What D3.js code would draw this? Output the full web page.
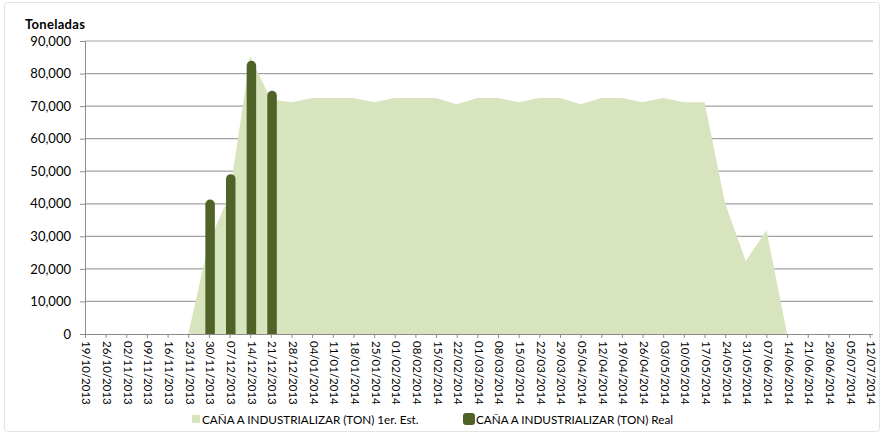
<!DOCTYPE html>
<html>
<head>
<meta charset="utf-8">
<script src="https://cdn.jsdelivr.net/npm/d3@7"></script>
<style>
  body { margin: 0; background: #fff; }
  svg { display: block; font-family: Lato, "Open Sans", sans-serif; }
</style>
</head>
<body>
<svg id="chart" width="884" height="434"></svg>
<script>
// =========================
// DATI
// =========================
const tickDates = [
  "19/10/2013", "26/10/2013", "02/11/2013", "09/11/2013", "16/11/2013", "23/11/2013",
  "30/11/2013", "07/12/2013", "14/12/2013", "21/12/2013", "28/12/2013", "04/01/2014",
  "11/01/2014", "18/01/2014", "25/01/2014", "01/02/2014", "08/02/2014", "15/02/2014",
  "22/02/2014", "01/03/2014", "08/03/2014", "15/03/2014", "22/03/2014", "29/03/2014",
  "05/04/2014", "12/04/2014", "19/04/2014", "26/04/2014", "03/05/2014", "10/05/2014",
  "17/05/2014", "24/05/2014", "31/05/2014", "07/06/2014", "14/06/2014", "21/06/2014",
  "28/06/2014", "05/07/2014", "12/07/2014"
];

// 1er. Est. (area)
const estDates = [
  "23/11/2013", "30/11/2013", "07/12/2013", "14/12/2013", "21/12/2013", "28/12/2013",
  "04/01/2014", "11/01/2014", "18/01/2014", "25/01/2014", "01/02/2014", "08/02/2014",
  "15/02/2014", "22/02/2014", "01/03/2014", "08/03/2014", "15/03/2014", "22/03/2014",
  "29/03/2014", "05/04/2014", "12/04/2014", "19/04/2014", "26/04/2014", "03/05/2014",
  "10/05/2014", "17/05/2014", "24/05/2014", "31/05/2014", "07/06/2014", "14/06/2014"
];
const estValues = [
  0, 28200, 42700, 85300, 72000, 71200,
  72500, 72500, 72500, 71200, 72500, 72500,
  72500, 70600, 72500, 72500, 71200, 72500,
  72500, 70600, 72500, 72500, 71200, 72500,
  71200, 71200, 40100, 22400, 31900, 0
];

// Real (barre)
const realDates = ["30/11/2013", "07/12/2013", "14/12/2013", "21/12/2013"];
const realValues = [41300, 49100, 83900, 74700];

const yTicks = [0, 10000, 20000, 30000, 40000, 50000, 60000, 70000, 80000, 90000];

const serieEst = "CAÑA A INDUSTRIALIZAR (TON) 1er. Est.";
const serieReal = "CAÑA A INDUSTRIALIZAR (TON) Real";

// =========================
// SCALE
// =========================
const parse = d3.timeParse("%d/%m/%Y");
const svg = d3.select("#chart");

const x = d3.scaleTime()
  .domain([parse(tickDates[0]), parse(tickDates[tickDates.length - 1])])
  .range([85, 869.7]);

const y = d3.scaleLinear()
  .domain([0, 90000])
  .range([334, 41]);

const plotRight = 873;
const lightGreen = "#d7e4bd";
const darkGreen = "#4f6228";

// bordo del grafico
svg.append("rect")
  .attr("x", 4.5).attr("y", 2.5)
  .attr("width", 875).attr("height", 429)
  .attr("rx", 3)
  .attr("fill", "#fff")
  .attr("stroke", "#e3e3e3");

// griglia
svg.append("g")
  .selectAll("line")
  .data(yTicks.filter(d => d > 0))
  .join("line")
  .attr("x1", 85).attr("x2", plotRight)
  .attr("y1", d => y(d)).attr("y2", d => y(d))
  .attr("stroke", "#a3a3a3")
  .attr("stroke-width", 1.2);

// =========================
// AREA 1er. Est.
// =========================
const estData = estDates.map((d, i) => ({ date: parse(d), value: estValues[i] }));

const area = d3.area()
  .x(d => x(d.date))
  .y0(y(0))
  .y1(d => y(d.value));

svg.append("path")
  .datum(estData)
  .attr("fill", lightGreen)
  .attr("d", area);

// =========================
// BARRE Real
// =========================
const realData = realDates.map((d, i) => ({ date: parse(d), value: realValues[i] }));
const barW = 9.5;

function barPath(d) {
  const cx = x(d.date) + 1.2;
  const r = barW / 2;
  const top = y(d.value);
  const y0 = y(0);
  return `M${cx - r},${y0} L${cx - r},${top + r} A${r},${r} 0 0 1 ${cx + r},${top + r} L${cx + r},${y0} Z`;
}

svg.append("g")
  .selectAll("path")
  .data(realData)
  .join("path")
  .attr("fill", darkGreen)
  .attr("d", barPath);

// =========================
// ASSI
// =========================
const yAxis = d3.axisLeft(y)
  .tickValues(yTicks)
  .tickFormat(d3.format(","))
  .tickSize(5)
  .tickPadding(9);

const gy = svg.append("g")
  .attr("transform", "translate(85,0)")
  .call(yAxis);
gy.select(".domain").attr("stroke", "#8c8c8c");
gy.selectAll(".tick line").attr("stroke", "#8c8c8c");
gy.selectAll(".tick text")
  .attr("font-size", 13)
  .attr("font-family", "Lato, sans-serif")
  .attr("fill", "#000");

const xAxis = d3.axisBottom(x)
  .tickValues(tickDates.map(parse))
  .tickFormat(d3.timeFormat("%d/%m/%Y"))
  .tickSizeInner(4)
  .tickSizeOuter(0);

const gx = svg.append("g")
  .attr("transform", `translate(0,${y(0)})`)
  .call(xAxis);
gx.select(".domain").attr("d", `M85,0.5H${plotRight}`).attr("stroke", "#8c8c8c");
gx.selectAll(".tick line").attr("stroke", "#8c8c8c");
gx.selectAll(".tick text")
  .attr("font-size", 11.5)
  .attr("font-family", "Lato, sans-serif")
  .attr("fill", "#000")
  .attr("text-anchor", "start")
  .attr("transform", "translate(1,7) rotate(90)")
  .attr("x", 0)
  .attr("y", 0)
  .attr("dy", "0.35em");

// titolo asse
svg.append("text")
  .attr("x", 25).attr("y", 29)
  .attr("font-size", 13)
  .attr("font-weight", "bold")
  .attr("letter-spacing", 0.3)
  .text("Toneladas");

// =========================
// LEGENDA
// =========================
const legend = svg.append("g").attr("font-size", 11.7).attr("fill", "#000");

legend.append("rect")
  .attr("x", 192).attr("y", 415).attr("width", 8).attr("height", 8)
  .attr("fill", lightGreen);
legend.append("text")
  .attr("x", 202).attr("y", 424)
  .text(serieEst);

legend.append("rect")
  .attr("x", 463).attr("y", 413).attr("width", 12).attr("height", 12)
  .attr("rx", 3)
  .attr("fill", darkGreen);
legend.append("text")
  .attr("x", 476).attr("y", 424)
  .text(serieReal);
</script>
</body>
</html>
